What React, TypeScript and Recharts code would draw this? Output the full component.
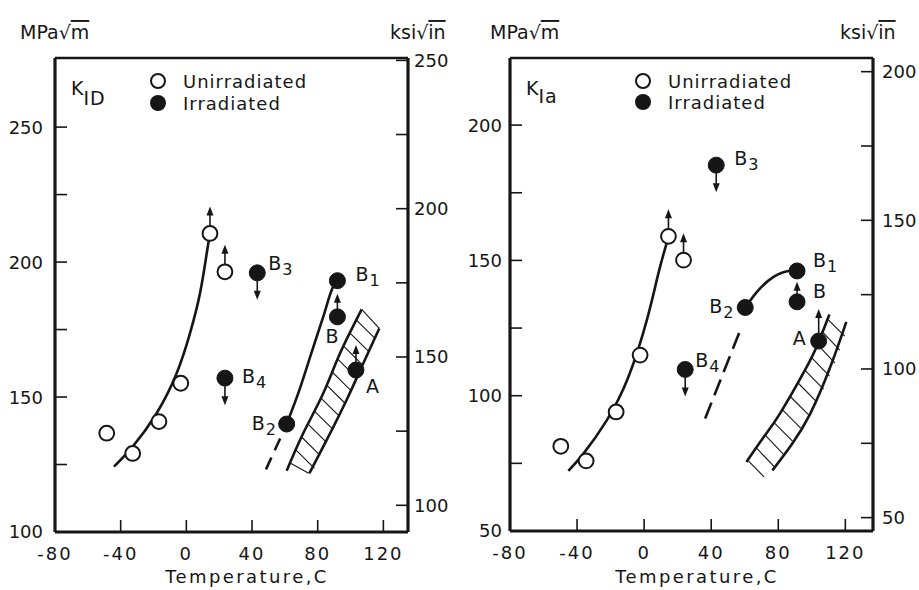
import React from 'react';
import { ComposedChart, XAxis, YAxis, Line, Scatter, ReferenceLine } from 'recharts';

const FONT = '"DejaVu Sans", Verdana, sans-serif';
const INK = '#161616';

// ---------------- shared ----------------
const tempTicks = [-80, -40, 0, 40, 80, 120];

// ---------------- left panel : K_ID ----------------
const kidMpaTicks = [100, 125, 150, 175, 200, 225, 250];
const kidMpaLabels = [100, 150, 200, 250];
const kidKsiTicks = [100, 125, 150, 175, 200, 225, 250];
const kidKsiLabels = [100, 150, 200, 250];

const kidUnirradiated = [
  { t: -48.5, k: 136.6 },
  { t: -32.7, k: 129.1 },
  { t: -16.7, k: 140.9 },
  { t: -3.4, k: 155.1 },
  { t: 14.4, k: 210.6, arrow: 'up' },
  { t: 23.5, k: 196.4, arrow: 'up' },
];
const kidIrradiated = [
  { t: 43.2, k: 196.0, name: 'B3', arrow: 'down' },
  { t: 92.0, k: 193.1, name: 'B1' },
  { t: 92.0, k: 179.7, name: 'B', arrow: 'up' },
  { t: 103.3, k: 160.0, name: 'A', arrow: 'up' },
  { t: 61.1, k: 140.0, name: 'B2' },
  { t: 23.5, k: 157.0, name: 'B4', arrow: 'down' },
];
const kidUnirrCurve = [
  { t: -44.1, k: 124.2 },
  { t: -32.7, k: 131.6 },
  { t: -18.1, k: 144.0 },
  { t: -5.9, k: 158.8 },
  { t: 2.2, k: 173.6 },
  { t: 8.3, k: 188.4 },
  { t: 12.4, k: 203.2 },
  { t: 14.4, k: 210.6 },
];
const kidBCurve = [
  { t: 61.1, k: 140.0 },
  { t: 68.5, k: 152.0 },
  { t: 76.0, k: 166.0 },
  { t: 83.5, k: 180.0 },
  { t: 89.5, k: 191.0 },
  { t: 92.0, k: 193.1 },
];
const kidBDashed = [
  { t: 48.5, k: 123.2 },
  { t: 58.1, k: 135.9 },
];
const kidBandLeft = [
  { t: 61.1, k: 122.7 },
  { t: 71.2, k: 136.6 },
  { t: 83.4, k: 151.4 },
  { t: 93.6, k: 166.2 },
  { t: 106.8, k: 182.5 },
];
const kidBandRight = [
  { t: 74.9, k: 121.7 },
  { t: 85.5, k: 134.1 },
  { t: 97.6, k: 148.9 },
  { t: 107.8, k: 162.5 },
  { t: 117.5, k: 175.4 },
];
const kidHatches = [
  [106.8, 182.5, 117.5, 175.4],
  [103.6, 178.5, 114.9, 171.7],
  [99.7, 173.7, 111.0, 166.9],
  [95.8, 168.9, 107.1, 162.0],
  [92.1, 164.1, 103.4, 157.3],
  [88.8, 159.3, 100.1, 152.5],
  [85.5, 154.4, 96.8, 147.6],
  [82.0, 149.6, 93.3, 142.8],
  [78.0, 144.8, 89.3, 138.0],
  [74.1, 140.0, 85.4, 133.2],
  [70.2, 135.2, 81.5, 128.4],
  [66.7, 130.4, 78.0, 123.6],
  [63.2, 125.6, 74.5, 121.8],
];

// ---------------- right panel : K_Ia ----------------
const kiaMpaTicks = [50, 75, 100, 125, 150, 175, 200];
const kiaMpaLabels = [50, 100, 150, 200];
const kiaKsiTicks = [50, 75, 100, 125, 150, 175, 200];
const kiaKsiLabels = [50, 100, 150, 200];

const kiaUnirradiated = [
  { t: -49.7, k: 81.3 },
  { t: -34.6, k: 75.9 },
  { t: -16.7, k: 94.0 },
  { t: -2.4, k: 115.0 },
  { t: 14.5, k: 158.9, arrow: 'up' },
  { t: 23.5, k: 150.1, arrow: 'up' },
];
const kiaIrradiated = [
  { t: 43.0, k: 185.2, name: 'B3', arrow: 'down' },
  { t: 91.2, k: 146.1, name: 'B1' },
  { t: 91.2, k: 134.7, name: 'B', arrow: 'up' },
  { t: 60.3, k: 132.6, name: 'B2' },
  { t: 104.1, k: 120.2, name: 'A', arrow: 'up' },
  { t: 24.5, k: 109.7, name: 'B4', arrow: 'down' },
];
const kiaUnirrCurve = [
  { t: -45.2, k: 72.2 },
  { t: -36.2, k: 78.6 },
  { t: -22.3, k: 90.9 },
  { t: -9.4, k: 106.9 },
  { t: 1.6, k: 127.9 },
  { t: 8.5, k: 145.2 },
  { t: 13.5, k: 156.5 },
];
const kiaBCurve = [
  { t: 60.3, k: 132.6 },
  { t: 67.3, k: 138.4 },
  { t: 77.2, k: 143.9 },
  { t: 86.2, k: 146.1 },
  { t: 91.2, k: 146.3 },
];
const kiaBDashed = [
  { t: 36.4, k: 91.6 },
  { t: 57.3, k: 124.2 },
];
const kiaBandLeft = [
  { t: 61.0, k: 75.5 },
  { t: 70.5, k: 84.0 },
  { t: 81.0, k: 93.4 },
  { t: 96.0, k: 109.5 },
  { t: 103.5, k: 119.0 },
  { t: 110.5, k: 130.0 },
];
const kiaBandRight = [
  { t: 76.5, k: 72.4 },
  { t: 88.0, k: 82.0 },
  { t: 99.1, k: 93.4 },
  { t: 111.0, k: 110.6 },
  { t: 120.6, k: 127.3 },
];
const kiaHatches = [
  [109.0, 128.6, 119.6, 122.0],
  [106.1, 123.8, 116.6, 116.8],
  [103.3, 119.0, 113.8, 112.0],
  [99.7, 114.2, 110.6, 107.2],
  [96.0, 109.4, 107.0, 102.4],
  [92.0, 104.6, 103.0, 97.6],
  [87.0, 99.8, 98.3, 92.8],
  [82.1, 95.0, 93.4, 88.0],
  [77.2, 90.2, 88.5, 83.2],
  [72.2, 85.4, 83.0, 78.4],
  [67.2, 80.5, 78.0, 73.5],
  [62.3, 75.8, 71.5, 70.0],
];

// ---------------- style maps (positions of point labels, arrow lengths) ----------------
const kidLabelOffsets: Record<string, [number, number]> = {
  B3: [11, -3], B1: [18, 0], B: [-12, 26], A: [10, 23], B2: [-35, 6], B4: [17, 5],
};
const kiaLabelOffsets: Record<string, [number, number]> = {
  B3: [18, 0], B1: [16, -4], B: [16, -4], B2: [-36, 6], A: [-26, 4], B4: [10, -2],
};
const kidArrowLens: Record<string, number> = { B: 23, A: 25 };
const kiaArrowLens: Record<string, number> = { B: 20, A: 32 };

const TICK_LEN = 12;

const makeTick = (side: 'left' | 'right' | 'bottom', labels: number[], gap: number, skipLine?: number) =>
  (props: any) => {
    const { x, y, payload } = props;
    const v = payload.value;
    const lab = labels.includes(v) ? String(v) : null;
    const drawLine = v !== skipLine;
    const txt = { fontFamily: FONT, fontSize: 18, fill: INK } as any;
    if (side === 'bottom') {
      return (
        <g>
          {drawLine && <line x1={x} x2={x} y1={y} y2={y - TICK_LEN} stroke={INK} strokeWidth={1.6} />}
          {lab && (
            <text x={x} y={y + 28} textAnchor="middle" letterSpacing={2} {...txt}>{lab}</text>
          )}
        </g>
      );
    }
    if (side === 'left') {
      return (
        <g>
          {drawLine && <line x1={x} x2={x + TICK_LEN} y1={y} y2={y} stroke={INK} strokeWidth={1.6} />}
          {lab && (
            <text x={x - gap} y={y} dy="0.36em" textAnchor="end" {...txt}>{lab}</text>
          )}
        </g>
      );
    }
    return (
      <g>
        {drawLine && <line x1={x} x2={x - TICK_LEN} y1={y} y2={y} stroke={INK} strokeWidth={1.6} />}
        {lab && (
          <text x={x + gap} y={y} dy="0.36em" textAnchor="start" {...txt}>{lab}</text>
        )}
      </g>
    );
  };

function PointMark(props: any) {
  const { cx, cy, payload, filled, offsets, arrowLens } = props;
  if (cx == null || cy == null) return null;
  const r = filled ? 8 : 7.4;
  const name: string | undefined = payload.name;
  const arrow: string | undefined = payload.arrow;
  const len = (name && arrowLens[name]) || 27;
  let arrowEl = null;
  if (arrow === 'up') {
    const tip = cy - len;
    arrowEl = (
      <g>
        <line x1={cx} x2={cx} y1={cy - r} y2={tip + 6} stroke={INK} strokeWidth={1.6} />
        <polygon points={`${cx},${tip} ${cx - 3.5},${tip + 9} ${cx + 3.5},${tip + 9}`} fill={INK} />
      </g>
    );
  } else if (arrow === 'down') {
    const tip = cy + len;
    arrowEl = (
      <g>
        <line x1={cx} x2={cx} y1={cy + r} y2={tip - 6} stroke={INK} strokeWidth={1.6} />
        <polygon points={`${cx},${tip} ${cx - 3.5},${tip - 9} ${cx + 3.5},${tip - 9}`} fill={INK} />
      </g>
    );
  }
  let labelEl = null;
  if (name) {
    const off = offsets[name] || [12, 0];
    const main = name.charAt(0);
    const sub = name.slice(1);
    labelEl = (
      <text x={cx + off[0]} y={cy + off[1]} fontFamily={FONT} fontSize={19} fill={INK} letterSpacing={1}>
        {main}
        {sub && <tspan dy={5} fontSize={16}>{sub}</tspan>}
      </text>
    );
  }
  return (
    <g>
      {arrowEl}
      <circle cx={cx} cy={cy} r={r} fill={filled ? INK : '#fff'} stroke={INK} strokeWidth={filled ? 1 : 2} />
      {labelEl}
    </g>
  );
}

type PanelProps = {
  left: number;
  width: number;
  yLeftWidth: number;
  yRightWidth: number;
  xHeight: number;
  top: number;
  xDomain: [number, number];
  mpaDomain: [number, number];
  ksiDomain: [number, number];
  mpaTicks: number[];
  mpaLabels: number[];
  ksiTicks: number[];
  ksiLabels: number[];
  leftGap: number;
  rightGap: number;
  unirr: any[];
  irr: any[];
  unirrCurve: any[];
  bCurve: any[];
  bDashed: any[];
  dashPattern: string;
  bandLeft: any[];
  bandRight: any[];
  hatches: number[][];
  offsets: Record<string, [number, number]>;
  arrowLens: Record<string, number>;
};

function Panel(p: PanelProps) {
  const H = 590;
  return (
    <div style={{ position: 'absolute', left: p.left, top: 0 }}>
      <ComposedChart width={p.width} height={H} margin={{ top: p.top, right: 0, bottom: 0, left: 0 }}>
        <XAxis
          type="number"
          dataKey="t"
          domain={p.xDomain}
          ticks={tempTicks}
          allowDataOverflow
          height={p.xHeight}
          axisLine={{ stroke: INK, strokeWidth: 3 }}
          tickLine={false}
          tickSize={0}
          tickMargin={0}
          interval={0}
          tick={makeTick('bottom', tempTicks, 0, tempTicks[0])}
        />
        <YAxis
          yAxisId="mpa"
          type="number"
          dataKey="k"
          orientation="left"
          domain={p.mpaDomain}
          ticks={p.mpaTicks}
          allowDataOverflow
          width={p.yLeftWidth}
          axisLine={{ stroke: INK, strokeWidth: 3.2 }}
          tickLine={false}
          tickSize={0}
          tickMargin={0}
          interval={0}
          tick={makeTick('left', p.mpaLabels, p.leftGap, p.mpaDomain[0])}
        />
        <YAxis
          yAxisId="ksi"
          type="number"
          orientation="right"
          domain={p.ksiDomain}
          ticks={p.ksiTicks}
          allowDataOverflow
          width={p.yRightWidth}
          axisLine={{ stroke: INK, strokeWidth: 3.2 }}
          tickLine={false}
          tickSize={0}
          tickMargin={0}
          interval={0}
          tick={makeTick('right', p.ksiLabels, p.rightGap)}
        />
        <ReferenceLine yAxisId="mpa" y={p.mpaDomain[1]} stroke={INK} strokeWidth={2.5} ifOverflow="extendDomain" />

        {p.hatches.map((h, i) => (
          <Line
            key={'h' + i}
            yAxisId="mpa"
            data={[{ t: h[0], k: h[1] }, { t: h[2], k: h[3] }]}
            dataKey="k"
            type="linear"
            stroke={INK}
            strokeWidth={1.1}
            dot={false}
            activeDot={false}
            isAnimationActive={false}
          />
        ))}
        <Line yAxisId="mpa" data={p.bandLeft} dataKey="k" type="natural" stroke={INK} strokeWidth={2.6}
          dot={false} activeDot={false} isAnimationActive={false} />
        <Line yAxisId="mpa" data={p.bandRight} dataKey="k" type="natural" stroke={INK} strokeWidth={2.6}
          dot={false} activeDot={false} isAnimationActive={false} />
        <Line yAxisId="mpa" data={p.unirrCurve} dataKey="k" type="natural" stroke={INK} strokeWidth={2.6}
          dot={false} activeDot={false} isAnimationActive={false} />
        <Line yAxisId="mpa" data={p.bCurve} dataKey="k" type="monotone" stroke={INK} strokeWidth={2.6}
          dot={false} activeDot={false} isAnimationActive={false} />
        <Line yAxisId="mpa" data={p.bDashed} dataKey="k" type="linear" stroke={INK} strokeWidth={2.6}
          strokeDasharray={p.dashPattern} dot={false} activeDot={false} isAnimationActive={false} />

        <Scatter yAxisId="mpa" data={p.unirr} dataKey="k" isAnimationActive={false}
          shape={(s: any) => <PointMark {...s} filled={false} offsets={p.offsets} arrowLens={p.arrowLens} />} />
        <Scatter yAxisId="mpa" data={p.irr} dataKey="k" isAnimationActive={false}
          shape={(s: any) => <PointMark {...s} filled offsets={p.offsets} arrowLens={p.arrowLens} />} />
      </ComposedChart>
    </div>
  );
}

function Radical({ x, y, pre, under }: { x: number; y: number; pre: string; under: string }) {
  return (
    <text x={x} y={y} fontFamily={FONT} fontSize={19} fill={INK}>
      {pre}
      <tspan>√</tspan>
      <tspan style={{ textDecoration: 'overline' }}>{under}</tspan>
    </text>
  );
}

function Overlay() {
  const t = { fontFamily: FONT, fontSize: 19, fill: INK } as any;
  return (
    <svg width={919} height={590} style={{ position: 'absolute', left: 0, top: 0, pointerEvents: 'none' }}>
      {/* left panel */}
      <Radical x={20} y={39} pre="MPa" under="m" />
      <Radical x={390} y={39} pre="ksi" under="in" />
      <text x={71} y={95} {...t}>K<tspan dy={10} letterSpacing={1}>ID</tspan></text>
      <circle cx={158} cy={81} r={7} fill="#fff" stroke={INK} strokeWidth={2} />
      <circle cx={158} cy={103} r={8} fill={INK} />
      <text x={183} y={88} {...t} fontSize={18} letterSpacing={1}>Unirradiated</text>
      <text x={183} y={110} {...t} fontSize={18} letterSpacing={1}>Irradiated</text>
      <text x={247} y={583} textAnchor="middle" {...t} fontSize={18} letterSpacing={2.4}>Temperature,C</text>

      {/* right panel */}
      <Radical x={490} y={39} pre="MPa" under="m" />
      <Radical x={840} y={39} pre="ksi" under="in" />
      <text x={526} y={95} {...t}>K<tspan dy={8} letterSpacing={1}>Ia</tspan></text>
      <circle cx={643} cy={81} r={7} fill="#fff" stroke={INK} strokeWidth={2} />
      <circle cx={643} cy={102} r={8} fill={INK} />
      <text x={668} y={88} {...t} fontSize={18} letterSpacing={1}>Unirradiated</text>
      <text x={668} y={109} {...t} fontSize={18} letterSpacing={1}>Irradiated</text>
      <text x={697} y={583} textAnchor="middle" {...t} fontSize={18} letterSpacing={2.4}>Temperature,C</text>
    </svg>
  );
}

export default function App() {
  return (
    <div style={{ position: 'absolute', left: 0, top: 0, width: 919, height: 590, background: '#fff', overflow: 'hidden' }}>
      <Panel
        left={0}
        width={460}
        yLeftWidth={55}
        yRightWidth={52}
        xHeight={58}
        top={58}
        xDomain={[-80, 135]}
        mpaDomain={[100, 275.6]}
        ksiDomain={[91.0, 250.8]}
        mpaTicks={kidMpaTicks}
        mpaLabels={kidMpaLabels}
        ksiTicks={kidKsiTicks}
        ksiLabels={kidKsiLabels}
        leftGap={12}
        rightGap={6}
        unirr={kidUnirradiated}
        irr={kidIrradiated}
        unirrCurve={kidUnirrCurve}
        bCurve={kidBCurve}
        bDashed={kidBDashed}
        dashPattern="13 8"
        bandLeft={kidBandLeft}
        bandRight={kidBandRight}
        hatches={kidHatches}
        offsets={kidLabelOffsets}
        arrowLens={kidArrowLens}
      />
      <Panel
        left={460}
        width={459}
        yLeftWidth={50}
        yRightWidth={46}
        xHeight={59}
        top={58}
        xDomain={[-80, 136.5]}
        mpaDomain={[50, 224.8]}
        ksiDomain={[45.5, 204.6]}
        mpaTicks={kiaMpaTicks}
        mpaLabels={kiaMpaLabels}
        ksiTicks={kiaKsiTicks}
        ksiLabels={kiaKsiLabels}
        leftGap={8}
        rightGap={9}
        unirr={kiaUnirradiated}
        irr={kiaIrradiated}
        unirrCurve={kiaUnirrCurve}
        bCurve={kiaBCurve}
        bDashed={kiaBDashed}
        dashPattern="17 8"
        bandLeft={kiaBandLeft}
        bandRight={kiaBandRight}
        hatches={kiaHatches}
        offsets={kiaLabelOffsets}
        arrowLens={kiaArrowLens}
      />
      <Overlay />
    </div>
  );
}
